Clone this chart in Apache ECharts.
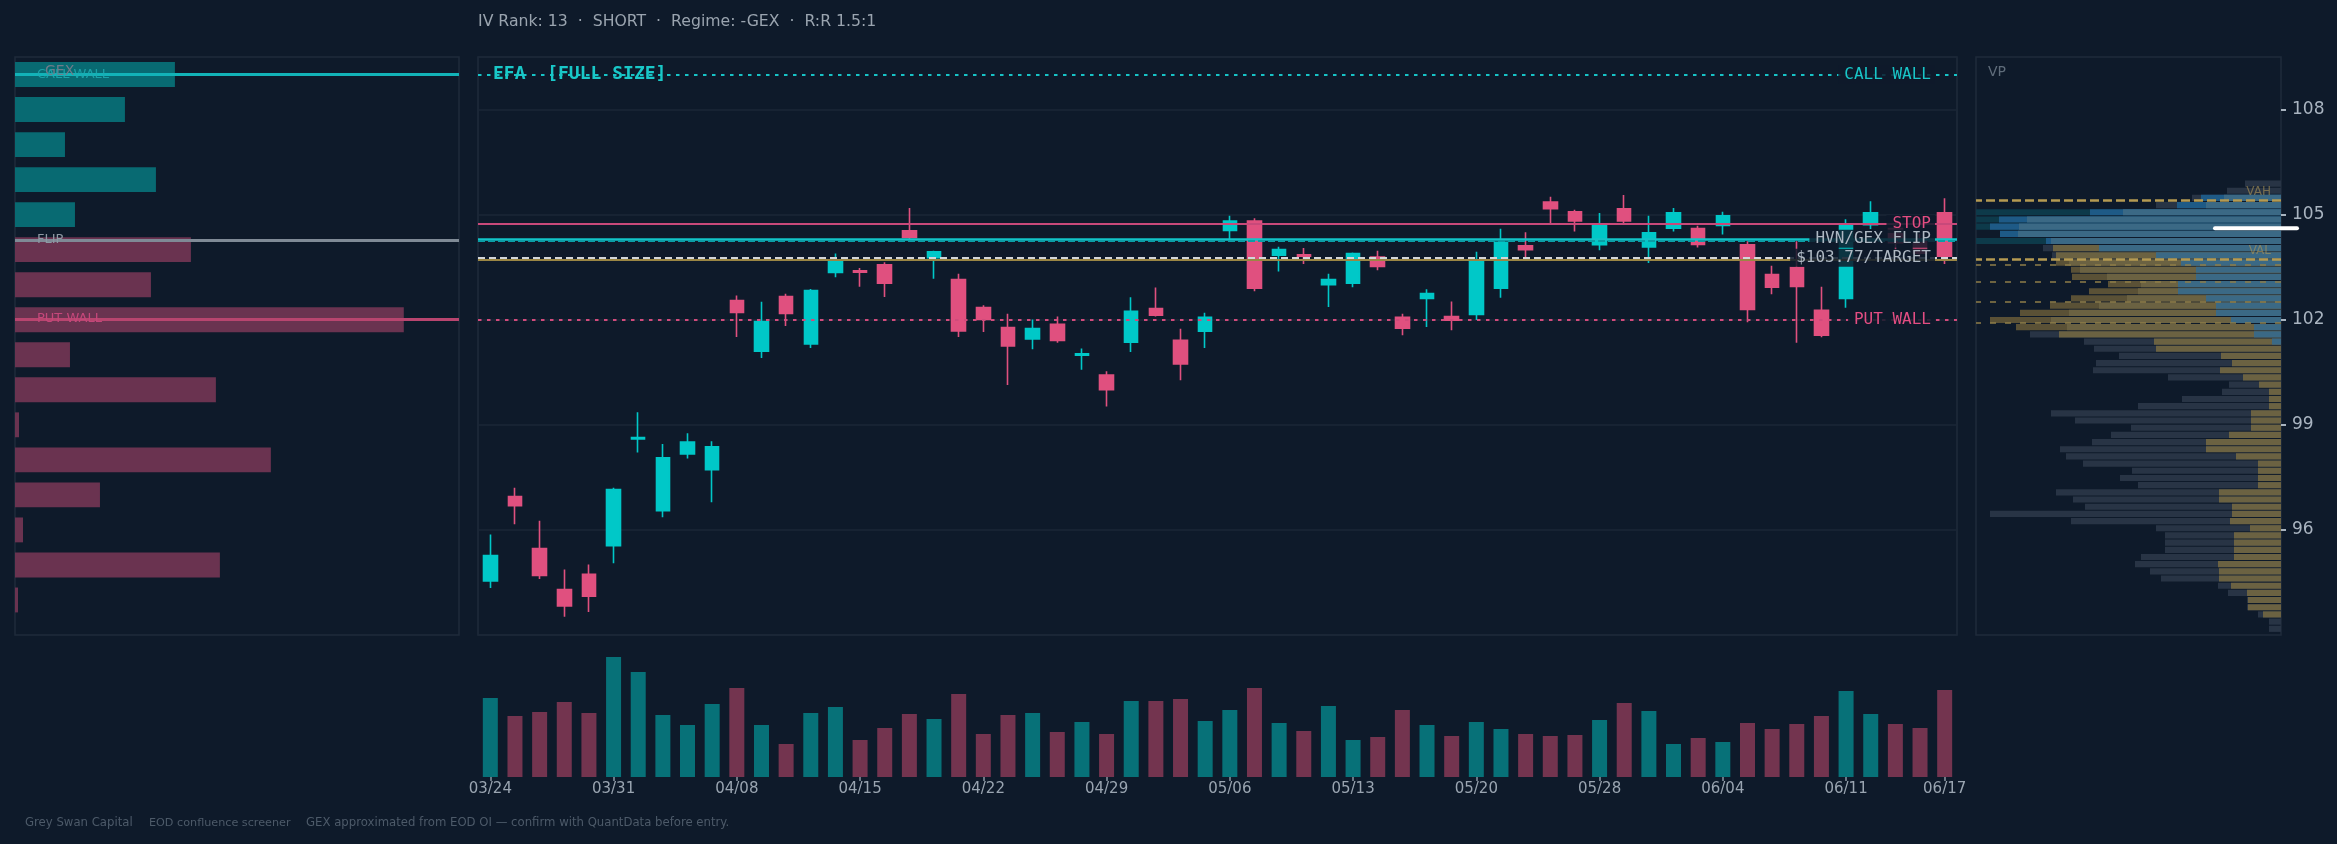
<!DOCTYPE html>
<html><head><meta charset="utf-8">
<script src="https://cdn.jsdelivr.net/npm/echarts@6/dist/echarts.min.js"></script>
<style>html,body{margin:0;padding:0;background:#0e1a2a;}#c{width:2337px;height:844px;}</style>
</head><body><div id="c"></div>
<script>
// ---------------- DATA ----------------
const dates = ['03/24','03/25','03/26','03/27','03/28','03/31','04/01','04/02','04/03','04/07',
  '04/08','04/09','04/10','04/11','04/14','04/15','04/16','04/17','04/18','04/21',
  '04/22','04/23','04/24','04/25','04/28','04/29','04/30','05/01','05/02','05/05',
  '05/06','05/07','05/08','05/09','05/12','05/13','05/14','05/15','05/16','05/19',
  '05/20','05/21','05/22','05/23','05/27','05/28','05/29','05/30','06/02','06/03',
  '06/04','06/05','06/06','06/09','06/10','06/11','06/12','06/13','06/16','06/17'];
// [open, close, low, high]
const ohlc = [
  [94.54,95.27,94.34,95.87],[96.95,96.69,96.16,97.20],[95.47,94.70,94.60,96.26],[94.30,93.83,93.52,94.87],[94.73,94.11,93.66,95.01],
  [95.55,97.15,95.05,97.20],[98.60,98.64,98.21,99.36],[96.55,98.06,96.36,98.45],[98.17,98.51,98.04,98.76],[97.72,98.37,96.79,98.53],
  [102.55,102.21,101.51,102.69],[101.10,101.95,100.91,102.51],[102.66,102.18,101.82,102.74],[101.31,102.83,101.19,102.88],[103.35,103.67,103.21,103.89],
  [103.40,103.36,102.94,103.48],[103.57,103.04,102.65,103.64],[104.54,104.35,104.22,105.19],[103.77,103.94,103.17,103.97],[103.15,101.68,101.51,103.31],
  [102.35,102.01,101.65,102.41],[101.78,101.25,100.14,102.17],[101.45,101.75,101.16,102.01],[101.87,101.41,101.34,102.09],[100.99,101.03,100.57,101.18],
  [100.42,100.00,99.52,100.53],[101.36,102.24,101.08,102.64],[102.32,102.13,102.09,102.92],[101.41,100.74,100.27,101.74],[101.67,102.07,101.19,102.20],
  [104.55,104.82,104.28,104.97],[104.82,102.90,102.81,104.90],[103.84,104.00,103.38,104.08],[103.85,103.81,103.59,104.05],[103.00,103.15,102.36,103.31],
  [103.04,103.89,102.93,103.92],[103.79,103.52,103.41,103.97],[102.07,101.76,101.56,102.17],[102.61,102.75,101.79,102.87],[102.09,101.99,101.70,102.52],
  [102.15,103.67,101.99,103.94],[102.90,104.21,102.63,104.60],[104.11,104.00,103.79,104.50],[105.36,105.17,104.76,105.51],[105.08,104.82,104.52,105.14],
  [104.14,104.70,103.98,105.05],[105.17,104.82,104.74,105.56],[104.08,104.48,103.62,104.97],[104.61,105.05,104.52,105.19],[104.60,104.15,104.06,104.68],
  [104.69,104.97,104.43,105.08],[104.14,102.29,101.93,104.24],[103.29,102.93,102.73,103.54],[103.49,102.95,101.34,104.24],[102.27,101.56,101.50,102.94],
  [102.61,104.71,102.34,104.87],[104.71,105.05,104.59,105.38],[104.60,104.20,104.00,104.75],[104.30,103.90,103.75,104.45],[105.05,103.81,103.59,105.47]
];
// volume, millions
const volume = [7.9,6.1,6.5,7.5,6.4,12.0,10.5,6.2,5.2,7.3,8.9,5.2,3.3,6.4,7.0,3.7,4.9,6.3,5.8,8.3,
  4.3,6.2,6.4,4.5,5.5,4.3,7.6,7.6,7.8,5.6,6.7,8.9,5.4,4.6,7.1,3.7,4.0,6.7,5.2,4.1,
  5.5,4.8,4.3,4.1,4.2,5.7,7.4,6.6,3.3,3.9,3.5,5.4,4.8,5.3,6.1,8.6,6.3,5.3,4.9,8.7];
// GEX by strike
const gexStrikes = [109,108,107,106,105,104,103,102,101,100,99,98,97,96,95,94];
const gexValues  = [160,110,50,141,60,-176,-136,-389,-55,-201,-4,-256,-85,-8,-205,-3];
// key levels
const callWall = 109.0, stopLvl = 104.73, hvnLvl = 104.31, flipLvl = 104.26,
      targetLvl = 103.77, valLine = 103.70, putWall = 102.0;
// volume profile (rows from top, 0.205 bins starting at 105.99)
const vpTop = 105.99, vpStep = 0.205;
const vpTotal = [36,54,89,125,305,305,305,281,305,238,229,225,210,209,173,192,210,231,261,291,265,251,197,187,162,185,188,113,52,59,99,143,230,206,150,170,189,221,215,198,149,161,143,225,208,196,291,210,125,116,116,116,140,146,131,120,63,53,34,34,23,12,12];
const vpUp = [0,0,80,104,191,282,291,281,235,228,225,212,201,174,140,143,154,182,212,230,214,222,127,125,60,49,61,38,22,12,12,12,30,30,30,52,75,75,45,23,23,23,23,62,62,49,49,51,31,47,47,47,47,63,62,62,50,34,33,33,18,0,0];
const vpRecent = [0,0,57,75,158,254,262,263,230,182,125,100,85,85,103,103,75,65,65,50,27,27,9,0,0,0,0,0,0,0,0,0,0,0,0,0,0,0,0,0,0,0,0,0,0,0,0,0,0,0,0,0,0,0,0,0,0,0,0,0,0,0,0];
const vah = 105.41, val = 103.73, vpZones = [103.58,103.07,102.50,101.90], poc = 104.61;
const yTicks = [96,99,102,105,108];

// ---------------- CHART ----------------
const BG = '#0e1a2a', BORDER = '#1f2b3b';
const UP = '#00c8c8', DN = '#e0507f';
const YMIN = 93, YMAX = 109.5;
const chart = echarts.init(document.getElementById('c'), null, {renderer:'canvas'});
const showIdx = i => i % 5 === 0 || i === dates.length - 1;
const vpRows = vpTotal.map((t,k) => [+(vpTop - vpStep*(k+0.5)).toFixed(3), t, vpUp[k], vpRecent[k]]);
const gexMax = Math.max(...gexValues.map(Math.abs)) * 1.142;

const yBase = {type:'value', min:YMIN, max:YMAX, interval:3, axisLine:{show:false}, axisTick:{show:false}, axisLabel:{show:false}, splitLine:{show:false}};

const option = {
  backgroundColor: BG,
  animation: false,
  grid: [
    {left:15, top:57, width:444, height:578, show:true, borderColor:BORDER, borderWidth:1.5, backgroundColor:'transparent'},
    {left:478, top:57, width:1479, height:578, show:true, borderColor:BORDER, borderWidth:1.5, backgroundColor:'transparent'},
    {left:478, top:657, width:1479, height:120, show:false},
    {left:1976, top:57, width:305, height:578, show:true, borderColor:BORDER, borderWidth:1.5, backgroundColor:'transparent'}
  ],
  xAxis: [
    {gridIndex:0, type:'value', min:0, max:gexMax, show:false},
    {gridIndex:1, type:'category', data:dates, show:false, boundaryGap:true},
    {gridIndex:2, type:'category', data:dates, boundaryGap:true,
      axisLine:{show:false},
      axisTick:{show:true, alignWithLabel:true, interval:(i)=>showIdx(i), length:4, lineStyle:{color:'#8a96a3', width:1.5}},
      axisLabel:{interval:(i)=>showIdx(i), color:'#9aa5b1', fontSize:15, margin:5, fontFamily:'DejaVu Sans'}},
    {gridIndex:3, type:'value', min:0, max:305, inverse:true, show:false}
  ],
  yAxis: [
    Object.assign({}, yBase, {gridIndex:0}),
    Object.assign({}, yBase, {gridIndex:1, splitLine:{show:true, lineStyle:{color:'#1b2737', width:1.5}}}),
    {gridIndex:2, type:'value', min:0, max:12, show:false},
    Object.assign({}, yBase, {gridIndex:3, position:'right',
      axisTick:{show:true, length:5, lineStyle:{color:'#a9b4c0', width:2}, customValues:yTicks},
      axisLabel:{show:true, color:'#a9b4c0', fontSize:17, margin:11, fontFamily:'DejaVu Sans', customValues:yTicks}})
  ],
  series: [
    { // GEX bars
      type:'custom', xAxisIndex:0, yAxisIndex:0, clip:true,
      data: gexStrikes.map((s,i)=>[s, gexValues[i]]),
      encode:{y:0, x:1},
      renderItem:(params, api)=>{
        const s = api.value(0), v = api.value(1);
        const p0 = api.coord([0, s + 0.355]);
        const p1 = api.coord([Math.abs(v), s - 0.355]);
        return {type:'rect', shape:{x:p0[0], y:p0[1], width:p1[0]-p0[0], height:p1[1]-p0[1]},
          style:{fill: v >= 0 ? '#086a72' : '#6a3350'}};
      },
      markLine:{silent:true, symbol:['none','none'], label:{show:false}, data:[
        {yAxis:callWall, lineStyle:{color:'#12b3b8', width:3, type:'solid'}},
        {yAxis:flipLvl, lineStyle:{color:'#7f8a96', width:3, type:'solid'}},
        {yAxis:putWall, lineStyle:{color:'#b8456f', width:3, type:'solid'}}
      ]}
    },
    { // candles
      type:'candlestick', xAxisIndex:1, yAxisIndex:1, data: ohlc, barWidth:14,
      itemStyle:{color:UP, color0:DN, borderColor:UP, borderColor0:DN, borderWidth:1.6},
      markLine:{silent:true, symbol:['none','none'], label:{show:false}, z:3, data:[
        {yAxis:callWall, lineStyle:{color:'#17c3c6', width:2.2, type:[3.5,5.5]}},
        {yAxis:stopLvl, lineStyle:{color:'#c8497a', width:2.2, type:'solid'}},
        {yAxis:hvnLvl, lineStyle:{color:'#12c4c8', width:2.6, type:'solid'}},
        {yAxis:flipLvl, lineStyle:{color:'#0a9ea6', width:2, type:[7,3]}},
        {yAxis:targetLvl, lineStyle:{color:'#d2d6da', width:2.2, type:[7,4]}},
        {yAxis:valLine, lineStyle:{color:'#9a8644', width:2, type:'solid'}},
        {yAxis:putWall, lineStyle:{color:'#d14b7c', width:2.2, type:[3.5,5.5]}}
      ]}
    },
    { // volume
      type:'bar', xAxisIndex:2, yAxisIndex:2, barWidth:15,
      data: volume.map((v,i)=>({value:v, itemStyle:{color: ohlc[i][1] >= ohlc[i][0] ? '#077178' : '#73344f'}}))
    },
    { // volume profile
      type:'custom', xAxisIndex:3, yAxisIndex:3, clip:true,
      data: vpRows, encode:{y:0, x:1},
      renderItem:(params, api)=>{
        const p = api.value(0), tot = api.value(1), up = api.value(2), rec = api.value(3);
        const h = 0.088;
        const inHi = p > 104.15 && p < 105.2;
        const inZone = p >= 101.7 && p <= 103.7;
        const totCol = inHi ? '#0d3a4a' : (inZone ? '#5a5136' : '#283445');
        const upCol = p > 104.15 ? '#1e5a86' : '#6b6242';
        const mk = (len, col) => {
          const a = api.coord([len, p + h]), b = api.coord([0, p - h]);
          return {type:'rect', shape:{x:a[0], y:a[1], width:b[0]-a[0], height:b[1]-a[1]}, style:{fill:col}};
        };
        const ch = [];
        if (tot > 0) ch.push(mk(tot, totCol));
        if (up > 0) ch.push(mk(up, upCol));
        if (rec > 0) ch.push(mk(rec, '#3b6985'));
        return {type:'group', children:ch};
      },
      markLine:{silent:true, symbol:['none','none'], label:{show:false}, data:[
        {yAxis:vah, lineStyle:{color:'#b59a52', width:2.5, type:[9,4]}},
        {yAxis:val, lineStyle:{color:'#b59a52', width:2.5, type:[9,4]}},
        ...vpZones.map(z=>({yAxis:z, lineStyle:{color:'#8f7d48', width:1.6, type:[6,9]}}))
      ]}
    }
  ]
};
chart.setOption(option);

// ---------- labels & markers positioned through the axes ----------
const yMain = v => chart.convertToPixel({yAxisIndex:1}, v);
const yGex = v => chart.convertToPixel({yAxisIndex:0}, v);
const yVP = v => chart.convertToPixel({yAxisIndex:3}, v);
const xVP = v => chart.convertToPixel({xAxisIndex:3}, v);
const lvlLabel = (txt, v, col) => ({type:'text', z:100, x:1935, y:yMain(v),
  style:{text:txt, fill:col, font:'16px "DejaVu Sans Mono"', align:'right', verticalAlign:'middle',
    backgroundColor:'rgba(14,26,42,0.85)', padding:[1,4,1,6]}});
const txt = (t, x, y, col, font, extra) => Object.assign({type:'text', z:100, x, y,
  style:{text:t, fill:col, font, align:'left', verticalAlign:'middle'}}, extra||{});
const pocY = yVP(poc);
chart.setOption({graphic:[
  txt('IV Rank: 13  ·  SHORT  ·  Regime: -GEX  ·  R:R 1.5:1', 478, 22, '#9aa4af', '15.7px "DejaVu Sans"'),
  txt('EFA  [FULL SIZE]', 493, 74, '#19c8c8', 'bold 18px "DejaVu Sans Mono"'),
  txt('GEX', 45, 71, '#6f7c8a', '14px "DejaVu Sans"'),
  txt('CALL WALL', 37, yGex(callWall), 'rgba(30,170,176,0.85)', '13px "DejaVu Sans"'),
  txt('FLIP', 37, yGex(flipLvl) - 1, '#8e98a3', '13px "DejaVu Sans"'),
  txt('PUT WALL', 37, yGex(putWall) - 1, '#c4477a', '13px "DejaVu Sans"'),
  txt('VP', 1988, 72, '#5f6c7a', '14px "DejaVu Sans"'),
  {type:'text', z:100, x:2271, y:yVP(vah) - 8, style:{text:'VAH', fill:'rgba(176,152,88,0.6)', font:'12px "DejaVu Sans"', align:'right', verticalAlign:'middle'}},
  {type:'text', z:100, x:2271, y:yVP(val) - 8, style:{text:'VAL', fill:'rgba(176,152,88,0.6)', font:'12px "DejaVu Sans"', align:'right', verticalAlign:'middle'}},
  {type:'line', z:100, shape:{x1:xVP(66), y1:pocY, x2:xVP(0) + 16, y2:pocY}, style:{stroke:'#ffffff', lineWidth:4, lineCap:'round'}},
  lvlLabel('CALL WALL', callWall, '#19c6c8'),
  lvlLabel('STOP', stopLvl, '#e34d82'),
  lvlLabel('HVN/GEX FLIP', hvnLvl, '#aeb8c3'),
  lvlLabel('$' + targetLvl.toFixed(2) + '/TARGET', targetLvl, '#aeb8c3'),
  lvlLabel('PUT WALL', putWall, '#e34d82'),
  txt('Grey Swan Capital', 25, 823, '#4d5a69', '11.7px "DejaVu Sans"'),
  txt('EOD confluence screener', 149, 823, '#4d5a69', '11.2px "DejaVu Sans"'),
  txt('GEX approximated from EOD OI — confirm with QuantData before entry.', 306, 823, '#4d5a69', '11.7px "DejaVu Sans"')
]});
</script></body></html>
